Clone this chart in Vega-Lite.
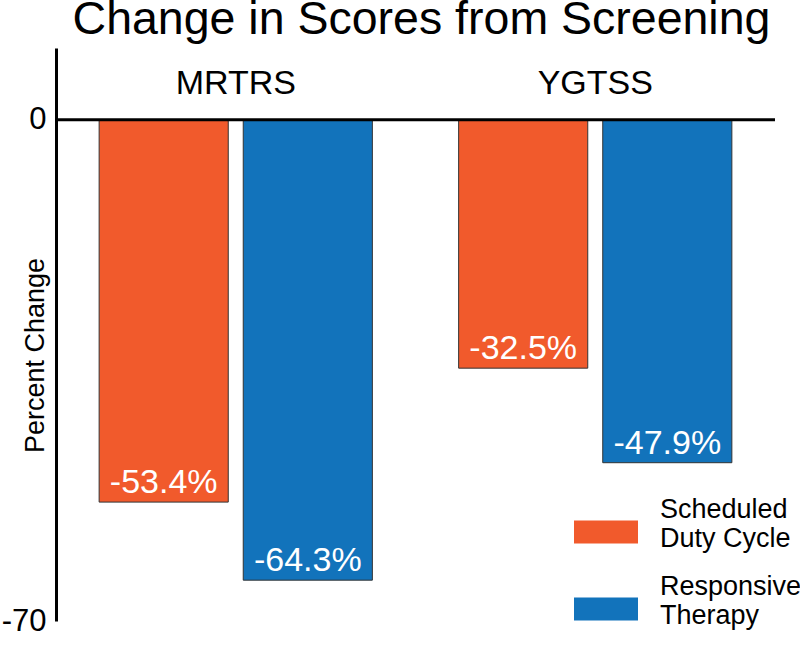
{
  "$schema": "https://vega.github.io/schema/vega-lite/v6.json",
  "width": 719,
  "height": 573,
  "autosize": "none",
  "padding": {"left": 56, "top": 48, "right": 25, "bottom": 24},
  "background": "white",
  "config": {"font": "Liberation Sans", "view": {"stroke": null}},
  "title": {
    "text": "Change in Scores from Screening",
    "fontSize": 46.5,
    "fontWeight": "normal",
    "color": "black",
    "anchor": "middle",
    "frame": "group",
    "offset": 5,
    "dx": 6
  },
  "data": {
    "values": [
      {"test": "MRTRS", "therapy": "Scheduled Duty Cycle", "bar": -53.4, "label": "-53.4%"},
      {"test": "MRTRS", "therapy": "Responsive Therapy", "bar": -64.3, "label": "-64.3%"},
      {"test": "YGTSS", "therapy": "Scheduled Duty Cycle", "bar": -34.7, "label": "-32.5%"},
      {"test": "YGTSS", "therapy": "Responsive Therapy", "bar": -47.9, "label": "-47.9%"}
    ]
  },
  "encoding": {
    "x": {
      "field": "test",
      "type": "nominal",
      "sort": ["MRTRS", "YGTSS"],
      "scale": {"paddingInner": 0.24, "paddingOuter": 0.12},
      "axis": null
    },
    "xOffset": {
      "field": "therapy",
      "type": "nominal",
      "sort": ["Scheduled Duty Cycle", "Responsive Therapy"],
      "scale": {"paddingInner": 0.104, "paddingOuter": 0}
    }
  },
  "layer": [
    {
      "mark": {"type": "bar", "stroke": "#333333", "strokeWidth": 1},
      "encoding": {
        "y": {
          "field": "bar",
          "type": "quantitative",
          "scale": {"domain": [-70, 10], "nice": false, "zero": false},
          "axis": {
            "values": [0, -70],
            "labelExpr": "datum.value == 0 ? '0' : '-70'",
            "ticks": false,
            "grid": false,
            "domainColor": "black",
            "domainWidth": 3,
            "labelFontSize": 31,
            "labelColor": "black",
            "labelPadding": 10,
            "title": "Percent Change",
            "titleFontSize": 27,
            "titleFontWeight": "normal",
            "titleColor": "black",
            "titleX": -13,
            "titleY": 307,
            "titleAngle": 270,
            "titleAlign": "center",
            "titleBaseline": "alphabetic"
          }
        },
        "color": {
          "field": "therapy",
          "type": "nominal",
          "scale": {
            "domain": ["Scheduled Duty Cycle", "Responsive Therapy"],
            "range": ["#F15A2C", "#1273BB"]
          },
          "legend": {
            "orient": "none",
            "legendX": 518,
            "legendY": 438,
            "title": null,
            "padding": 0,
            "symbolType": "M-1,0.08H1V0.8H-1Z",
            "symbolSize": 4096,
            "symbolStrokeWidth": 0,
            "symbolOpacity": 1,
            "labelFontSize": 27,
            "labelColor": "black",
            "labelOffset": 22,
            "labelLimit": 300,
            "rowPadding": 11,
            "labelBaseline": "alphabetic",
            "labelExpr": "datum.label == 'Scheduled Duty Cycle' ? ['Scheduled', 'Duty Cycle'] : ['Responsive', 'Therapy']"
          }
        }
      }
    },
    {
      "mark": {"type": "text", "color": "white", "fontSize": 34, "baseline": "alphabetic", "dy": -9},
      "encoding": {
        "y": {"field": "bar", "type": "quantitative"},
        "text": {"field": "label"}
      }
    },
    {
      "data": {"values": [{"test": "MRTRS"}, {"test": "YGTSS"}]},
      "mark": {"type": "text", "color": "black", "fontSize": 34, "baseline": "alphabetic"},
      "encoding": {
        "xOffset": null,
        "y": {"datum": 3.6},
        "text": {"field": "test"}
      }
    },
    {
      "data": {"values": [{"zero": 0}]},
      "mark": {"type": "rule", "strokeWidth": 3, "color": "black"},
      "encoding": {"y": {"field": "zero", "type": "quantitative"}, "x": null, "xOffset": null}
    }
  ]
}
